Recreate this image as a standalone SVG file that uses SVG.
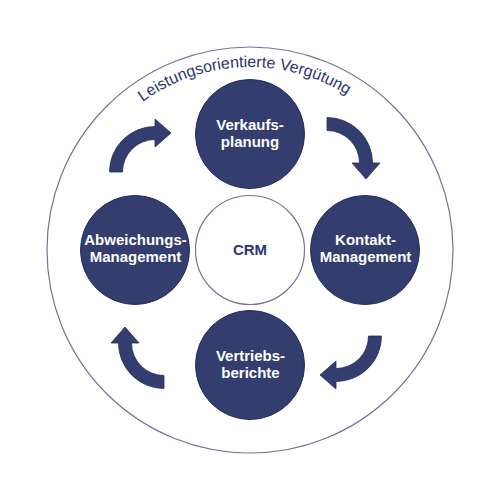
<svg xmlns="http://www.w3.org/2000/svg" xmlns:xlink="http://www.w3.org/1999/xlink" width="500" height="500" viewBox="0 0 500 500">
  <style>
    .bg { fill: #ffffff; }
    .outer { fill: none; stroke: #6f749e; stroke-width: 1.2; }
    .node { fill: #333d6e; stroke: #252e5c; stroke-width: 1; }
    .core { fill: #ffffff; stroke: #6f749e; stroke-width: 1.2; }
    .arrow { fill: #333d6e; stroke: #252e5c; stroke-width: 0.8; }
    .lbl { font-family: "Liberation Sans", Arial, Helvetica, sans-serif; font-weight: bold; font-size: 15px; fill: #ffffff; text-anchor: middle; }
    .crm { font-family: "Liberation Sans", Arial, Helvetica, sans-serif; font-weight: bold; font-size: 15px; fill: #2c3570; text-anchor: middle; }
    .arc { font-family: "Liberation Sans", Arial, Helvetica, sans-serif; font-size: 16px; fill: #2c3570; }
  </style>
  <defs>
    <path id="arcPath" d="M67,250 A183,183 0 0 1 433,250"/>
    <path id="curvedArrow" d="M-45.5,0 A45.5,45.5 0 0 1 0,-45.5 L0,-53 L16,-39 L0,-25 L0,-32.5 A32.5,32.5 0 0 0 -32.5,0 Z"/>
  </defs>
  <rect class="bg" x="0" y="0" width="500" height="500"/>

  <g id="outer-ring">
    <circle class="outer" cx="250" cy="250" r="203"/>
    <text class="arc"><textPath xlink:href="#arcPath" href="#arcPath" startOffset="281" text-anchor="middle">Leistungsorientierte Vergütung</textPath></text>
  </g>

  <g id="connectors">
    <use xlink:href="#curvedArrow" href="#curvedArrow" class="arrow" transform="translate(155,172)"/>
    <use xlink:href="#curvedArrow" href="#curvedArrow" class="arrow" transform="translate(327,163) rotate(90)"/>
    <use xlink:href="#curvedArrow" href="#curvedArrow" class="arrow" transform="translate(336,336) rotate(180)"/>
    <use xlink:href="#curvedArrow" href="#curvedArrow" class="arrow" transform="translate(164,343) rotate(270)"/>
  </g>

  <g id="crm">
    <circle class="core" cx="250" cy="250" r="54.5"/>
    <text class="crm" x="250" y="255">CRM</text>
  </g>

  <g id="verkaufsplanung">
    <circle class="node" cx="250" cy="134" r="54.5"/>
    <text class="lbl" x="250" y="130">Verkaufs-</text>
    <text class="lbl" x="250" y="147">planung</text>
  </g>

  <g id="kontakt-management">
    <circle class="node" cx="365" cy="250" r="54.5"/>
    <text class="lbl" x="365.5" y="245">Kontakt-</text>
    <text class="lbl" x="365.5" y="262">Management</text>
  </g>

  <g id="vertriebsberichte">
    <circle class="node" cx="250" cy="365" r="54.5"/>
    <text class="lbl" x="250.5" y="361">Vertriebs-</text>
    <text class="lbl" x="250.5" y="378">berichte</text>
  </g>

  <g id="abweichungs-management">
    <circle class="node" cx="135" cy="250" r="54.5"/>
    <text class="lbl" x="135.5" y="245">Abweichungs-</text>
    <text class="lbl" x="135.5" y="262">Management</text>
  </g>
</svg>
